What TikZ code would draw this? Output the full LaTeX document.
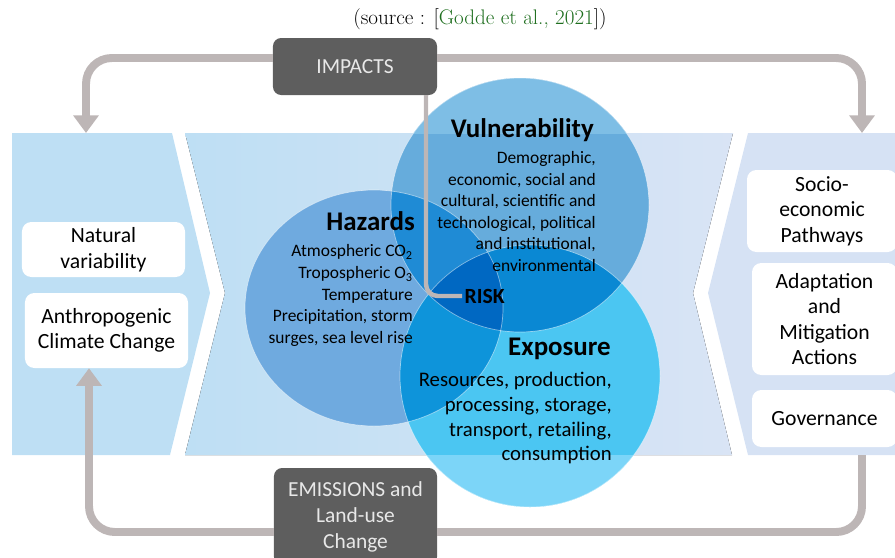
\documentclass[tikz,border=0pt]{standalone}
\usepackage{fontspec}
\usetikzlibrary{arrows.meta}
\newfontfamily\carlito{Carlito}

\definecolor{bandblue}{HTML}{BEDFF4}
\definecolor{midlav}{HTML}{D9E4F5}
\definecolor{bandlav}{HTML}{D6E2F4}
\definecolor{hazcol}{HTML}{6FAADF}
\definecolor{vulcol}{HTML}{66ACDC}
\definecolor{vultop}{HTML}{7EBEE5}
\definecolor{expcol}{HTML}{4BC6F2}
\definecolor{expbot}{HTML}{7CD5F8}
\definecolor{hvcol}{HTML}{1F8BD5}
\definecolor{hecol}{HTML}{0E94DA}
\definecolor{vecol}{HTML}{0A88D3}
\definecolor{hvecol}{HTML}{0068C2}
\definecolor{linkgray}{HTML}{BDB6B6}
\definecolor{boxgray}{HTML}{5E5E5E}
\definecolor{boxtext}{HTML}{E8E8E8}
\definecolor{citegreen}{HTML}{1E6E1E}

\begin{document}
\begin{tikzpicture}[x=0.03cm, y=-0.03cm,
	hazpath/.style={insert path={(374,308) ellipse [x radius=129, y radius=118]}},
	vulpath/.style={insert path={(520,205) ellipse [x radius=129, y radius=127]}},
	exppath/.style={insert path={(530,376) ellipse [x radius=130, y radius=131]}},
	whitebox/.style={fill=white, rounded corners=8pt, align=center, inner sep=0pt,
		font=\carlito\fontsize{18.5}{21.8}\selectfont},
	darkbox/.style={fill=boxgray, text=boxtext, rounded corners=7pt, align=center, inner sep=0pt,
		font=\carlito\fontsize{18.3}{22.2}\selectfont},
	head/.style={inner sep=0pt, font=\carlito\bfseries\fontsize{23}{26}\selectfont},
	body/.style={inner sep=0pt, align=right, font=\carlito\fontsize{14.9}{18.4}\selectfont},
	grayline/.style={draw=linkgray, line width=6.8pt, rounded corners=22pt},
	tip/.style={-{Triangle[width=21pt,length=15pt]}}]
	\useasboundingbox (0,0) rectangle (895,557);
	\clip (0,0) rectangle (895,557);

	\coordinate (bandT) at (0,133); % band top
	\coordinate (bandB) at (0,455); % band bottom
	\coordinate (TL) at (86,58); % top left corner
	\coordinate (TR) at (862,58); % top right corner
	\coordinate (BL) at (89,532); % bottom left corner
	\coordinate (BR) at (862,532); % bottom right corner
	\coordinate (RC) at (426,296); % risk corner

	% three panels
	\fill[bandblue] (12,133) -- (172,133) -- (210,293) -- (170,455) -- (12,455) -- cycle;
	\fill[left color=bandblue, right color=midlav] (185,133) -- (733,133) -- (693,293) -- (732,455) -- (185,455) -- (225,293) -- cycle;
	\fill[bandlav] (748,133) -- (895,133) -- (895,455) -- (748,455) -- (708,293) -- cycle;

	% circles
	\fill[hazcol, hazpath];
	\fill[vulcol, vulpath];
	\fill[expcol, exppath];
	\begin{scope}
		\clip (0,0) rectangle (895,133);
		\fill[vultop, vulpath];
	\end{scope}
	\begin{scope}
		\clip (0,455) rectangle (895,557);
		\fill[expbot, exppath];
	\end{scope}
	\begin{scope}
		\clip[hazpath];
		\fill[hvcol, vulpath];
		\fill[hecol, exppath];
	\end{scope}
	\begin{scope}
		\clip[vulpath];
		\fill[vecol, exppath];
		\clip[hazpath];
		\fill[hvecol, exppath];
	\end{scope}
	\draw[white, opacity=0.5, line width=0.6pt, hazpath];
	\draw[white, opacity=0.5, line width=0.6pt, vulpath];
	\draw[white, opacity=0.5, line width=0.6pt, exppath];

	% boxes
	\node[darkbox, minimum width=4.92cm, minimum height=1.71cm] (impacts) at (355,66.5) {IMPACTS};
	\node[darkbox, minimum width=4.89cm, minimum height=2.91cm] (emis) at (355.5,516.5) {EMISSIONS and\\Land-use\\Change};
	\node[whitebox, minimum width=4.89cm, minimum height=1.65cm] (natural) at (103.5,249.5) {Natural\\variability};
	\node[whitebox, minimum width=4.89cm, minimum height=2.25cm] (anthro) at (106.5,330.5) {Anthropogenic\\Climate Change};
	\node[whitebox, minimum width=4.5cm, minimum height=2.46cm] (socio) at (822,211) {Socio-\\economic\\Pathways};
	\node[whitebox, minimum width=4.35cm, minimum height=3.36cm] (adapt) at (824.5,319) {Adaptation\\and\\Mitigation\\Actions};
	\node[whitebox, minimum width=4.35cm, minimum height=1.71cm] (gov) at (824.5,418.5) {Governance};

	% texts in the circles
	\node[head, anchor=east] (haz) at (415,221) {Hazards};
	\node[body, anchor=east] (hazt) at (413,295.5) {Atmospheric CO\textsubscript{2}\\Tropospheric O\textsubscript{3}\\Temperature\\Precipitation, storm\\surges, sea level rise};
	\node[head, anchor=east] (vul) at (594,130) {Vulnerability};
	\node[body, anchor=east] (vult) at (596,211.5) {Demographic,\\economic, social and\\cultural, scientific and\\technological, political\\and institutional,\\environmental};
	\node[head, anchor=east] (exp) at (611,349) {Exposure};
	\node[body, anchor=east, font=\carlito\fontsize{17.7}{21.3}\selectfont] (expt) at (612,418) {Resources, production,\\processing, storage,\\transport, retailing,\\consumption};
	\node[inner sep=2pt, anchor=west, font=\carlito\bfseries\fontsize{18.5}{22}\selectfont] (risk) at (462,296) {RISK};

	% links
	\draw[grayline, tip] (impacts.west |- TL) -- (TL) -- (TL |- bandT);
	\draw[grayline, tip] (impacts.east |- TR) -- (TR) -- (TR |- bandT);
	\draw[grayline] (BR |- bandB) -- (BR) -- (emis.east |- BR);
	\draw[grayline, tip] (emis.west |- BL) -- (BL) -- (anthro.south -| BL);
	\draw[grayline, line width=3.8pt, rounded corners=10pt] (impacts.south -| RC) -- (RC) -- (risk.west);

	\node (src) at (480,19) {\fontsize{18}{20}\selectfont (source : [{\color{citegreen}Godde et al., 2021}])};
\end{tikzpicture}
\end{document}
